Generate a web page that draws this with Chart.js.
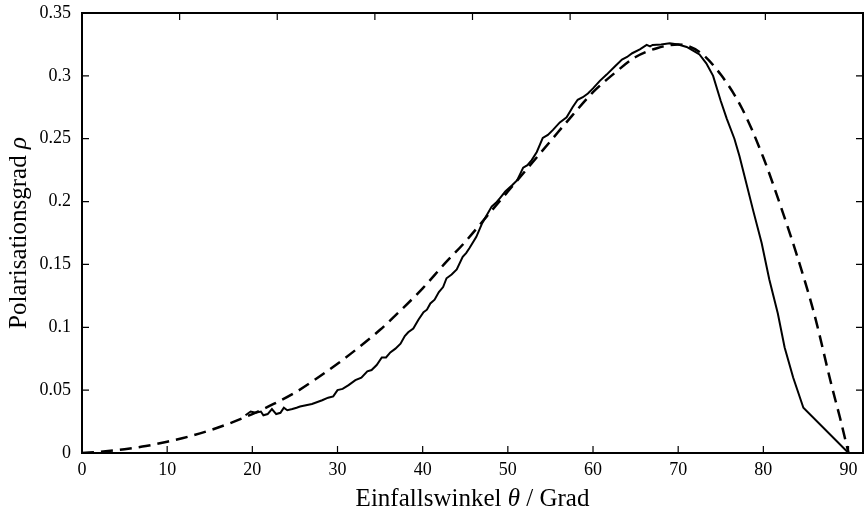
<!DOCTYPE html>
<html>
<head>
<meta charset="utf-8">
<script src="https://cdn.jsdelivr.net/npm/chart.js@4"></script>
<style>
  html, body { margin: 0; padding: 0; background: #fff; }
  #wrap { width: 867px; height: 515px; }
</style>
</head>
<body>
<div id="wrap"><canvas id="polChart" width="867" height="515"></canvas></div>
<script>
// Theorie (gestrichelt)
const theoAngles = [0, 2.5, 5, 7.5, 10, 12.5, 15, 17.5, 20, 22.5, 25, 27.5, 30, 32.5, 35, 37.5, 40, 42.5, 45, 47.5,
    50, 52.5, 55, 57.5, 60, 62.5, 65, 67.5, 70, 72.5, 75, 77.5, 80, 82, 84, 86, 88, 89, 90];
const theoValues = [0, 0.0012, 0.003, 0.0055, 0.009, 0.013, 0.018, 0.024, 0.031, 0.039, 0.048, 0.059, 0.071, 0.084, 0.098, 0.114, 0.131, 0.150, 0.168, 0.188,
    0.208, 0.228, 0.248, 0.268, 0.287, 0.302, 0.315, 0.322, 0.325, 0.319, 0.301, 0.274, 0.235, 0.197, 0.156, 0.110, 0.054, 0.028, 0];

// Messung (durchgezogen)
const measAngles = [19.2, 19.8, 20.4, 21.0, 21.3, 21.8, 22.3, 22.8, 23.3, 23.7, 24.1, 24.7, 25.2, 25.6, 26.3, 27.0, 27.4, 28.2, 28.9, 29.5,
    30.0, 30.6, 31.3, 32.1, 32.8, 33.5, 34.0, 34.6, 35.2, 35.7, 36.2, 36.8, 37.4, 37.9, 38.3, 38.9, 39.5, 40.1, 40.5, 40.9,
    41.4, 41.9, 42.4, 42.8, 43.4, 44.0, 44.7, 45.1, 45.5, 46.3, 47.0, 47.5, 48.1, 48.6, 49.1, 49.7, 50.5, 51.1, 51.8, 52.3,
    52.8, 53.4, 54.1, 54.7, 55.3, 56.1, 56.9, 57.6, 58.2, 58.8, 59.4, 60.0, 60.8, 61.6, 62.5, 63.4, 64.0, 64.6, 65.5, 66.3,
    66.7, 67.0, 68.0, 69.0, 70.0, 71.0, 72.0, 72.5, 73.3, 74.1, 75.0, 75.7, 76.6, 77.2, 77.8, 78.8, 79.8, 80.7, 81.7, 82.5,
    83.5, 84.7, 90.0];
const measValues = [0.030, 0.033, 0.032, 0.033, 0.030, 0.031, 0.035, 0.031, 0.032, 0.036, 0.034, 0.035, 0.036, 0.037, 0.038, 0.039, 0.040, 0.042, 0.044, 0.045,
    0.050, 0.051, 0.054, 0.058, 0.060, 0.065, 0.066, 0.070, 0.076, 0.076, 0.080, 0.083, 0.087, 0.093, 0.096, 0.099, 0.106, 0.112, 0.114, 0.119,
    0.122, 0.128, 0.132, 0.139, 0.142, 0.146, 0.156, 0.159, 0.163, 0.172, 0.183, 0.189, 0.196, 0.199, 0.203, 0.208, 0.213, 0.217, 0.227, 0.229,
    0.233, 0.2395, 0.2506, 0.253, 0.257, 0.263, 0.267, 0.275, 0.281, 0.283, 0.286, 0.290, 0.296, 0.301, 0.307, 0.313, 0.315, 0.318, 0.321, 0.3246,
    0.3235, 0.3246, 0.325, 0.326, 0.325, 0.323, 0.319, 0.317, 0.310, 0.300, 0.280, 0.266, 0.250, 0.236, 0.220, 0.193, 0.167, 0.138, 0.111, 0.084,
    0.060, 0.036, 0];

// Achsen
const xTicks = [0, 10, 20, 30, 40, 50, 60, 70, 80, 90];
const yTicks = [0, 0.05, 0.1, 0.15, 0.2, 0.25, 0.3, 0.35];
const xTitle = ['Einfallswinkel ', 'θ', ' / Grad'];
const yTitle = ['Polarisationsgrad ', 'ρ'];

const serif = '"Liberation Serif", "Times New Roman", serif';

function toPoints(xs, ys) {
    return xs.map((x, i) => ({ x: x, y: ys[i] }));
}

// Ticks nach innen + Achsentitel
const innerTicks = {
    id: 'innerTicks',
    afterDraw(chart) {
        const ctx = chart.ctx;
        const a = chart.chartArea;
        const len = 7;
        ctx.save();
        ctx.strokeStyle = '#000';
        ctx.lineWidth = 1.2;
        ctx.beginPath();
        chart.scales.x.ticks.forEach(t => {
            const px = chart.scales.x.getPixelForValue(t.value);
            ctx.moveTo(px, a.bottom); ctx.lineTo(px, a.bottom - len);
        });
        chart.scales.x2.ticks.forEach(t => {
            const px = chart.scales.x2.getPixelForValue(t.value);
            ctx.moveTo(px, a.top); ctx.lineTo(px, a.top + len);
        });
        chart.scales.y.ticks.forEach(t => {
            const py = chart.scales.y.getPixelForValue(t.value);
            ctx.moveTo(a.left, py); ctx.lineTo(a.left + len, py);
            ctx.moveTo(a.right, py); ctx.lineTo(a.right - len, py);
        });
        ctx.stroke();

        // Titel mit kursivem Symbol
        ctx.fillStyle = '#000';
        ctx.textBaseline = 'alphabetic';
        const fs = 25;
        const fonts = (i) => (i % 2 === 1 ? 'italic ' : '') + fs + 'px ' + serif;
        function drawParts(parts, cx, cy) {
            let total = 0;
            parts.forEach((p, i) => { ctx.font = fonts(i); total += ctx.measureText(p).width; });
            let x = cx - total / 2;
            parts.forEach((p, i) => {
                ctx.font = fonts(i);
                ctx.fillText(p, x, cy);
                x += ctx.measureText(p).width;
            });
        }
        drawParts(xTitle, (a.left + a.right) / 2, 506);
        ctx.translate(26, (a.top + a.bottom) / 2);
        ctx.rotate(-Math.PI / 2);
        drawParts(yTitle, 0, 0);
        ctx.restore();
    }
};

const noPad = (s) => { s.paddingTop = 0; s.paddingBottom = 0; s.paddingLeft = 0; s.paddingRight = 0; };

const ctx = document.getElementById('polChart').getContext('2d');
new Chart(ctx, {
    type: 'line',
    data: {
        datasets: [
            {
                data: toPoints(measAngles, measValues),
                borderColor: '#000',
                borderWidth: 2,
                pointRadius: 0,
                tension: 0,
            },
            {
                data: toPoints(theoAngles, theoValues),
                borderColor: '#000',
                borderWidth: 2.5,
                borderDash: [12, 7],
                pointRadius: 0,
                cubicInterpolationMode: 'monotone',
            },
        ],
    },
    options: {
        responsive: false,
        animation: false,
        layout: { padding: 0 },
        plugins: {
            legend: { display: false },
            tooltip: { enabled: false },
        },
        scales: {
            x: {
                type: 'linear',
                position: 'bottom',
                min: 0,
                max: 91.7,
                afterBuildTicks: (s) => { s.ticks = xTicks.map(v => ({ value: v })); },
                afterFit: (s) => { s.height = 62; noPad(s); },
                grid: { display: false, drawTicks: false },
                border: { display: true, color: '#000', width: 2 },
                ticks: {
                    padding: 6,
                    color: '#000',
                    font: { family: serif, size: 18 },
                    maxRotation: 0,
                    autoSkip: false,
                    callback: (v) => String(v),
                },
            },
            x2: {
                type: 'linear',
                position: 'top',
                min: 0,
                max: 8,
                ticks: { display: false, stepSize: 1 },
                afterFit: (s) => { s.height = 13; noPad(s); },
                grid: { display: false, drawTicks: false },
                border: { display: true, color: '#000', width: 2 },
            },
            y: {
                type: 'linear',
                position: 'left',
                min: 0,
                max: 0.35,
                afterBuildTicks: (s) => { s.ticks = yTicks.map(v => ({ value: v })); },
                afterFit: (s) => { s.width = 82; noPad(s); },
                grid: { display: false, drawTicks: false },
                border: { display: true, color: '#000', width: 2 },
                ticks: {
                    padding: 11,
                    color: '#000',
                    font: { family: serif, size: 18 },
                    autoSkip: false,
                    callback: (v) => String(v),
                },
            },
            y2: {
                type: 'linear',
                position: 'right',
                min: 0,
                max: 0.35,
                ticks: { display: false },
                afterFit: (s) => { s.width = 4; noPad(s); },
                grid: { display: false, drawTicks: false },
                border: { display: true, color: '#000', width: 2 },
            },
        },
    },
    plugins: [innerTicks],
});
</script>
</body>
</html>
